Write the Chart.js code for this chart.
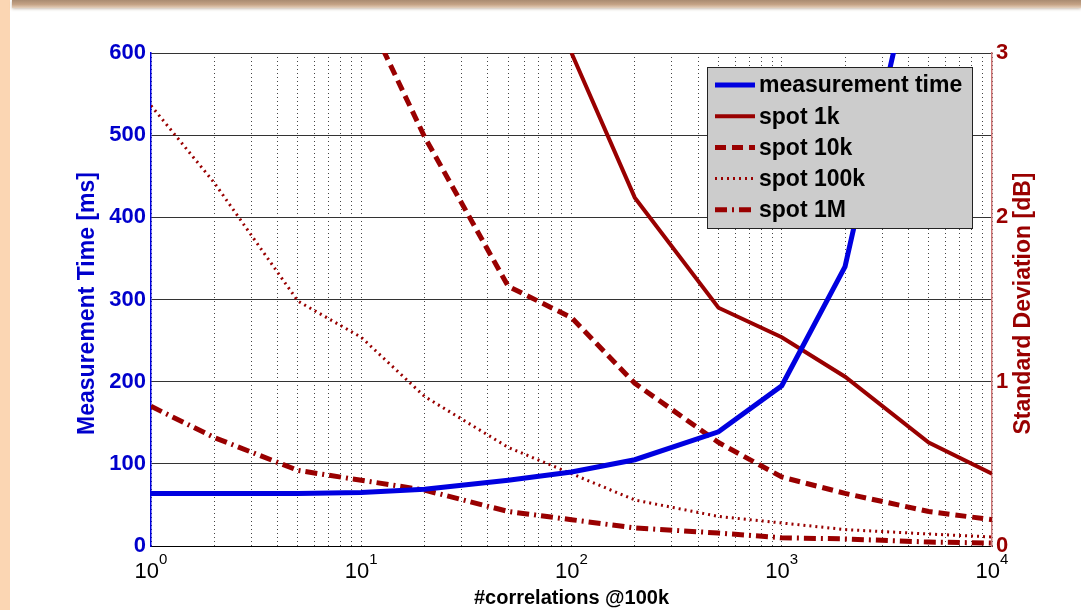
<!DOCTYPE html>
<html>
<head>
<meta charset="utf-8">
<script src="https://cdn.jsdelivr.net/npm/chart.js@4.4.1/dist/chart.umd.min.js"></script>
<style>
    html, body { margin: 0; padding: 0; background: #fff; }
    #marco { position: relative; width: 1081px; height: 610px; overflow: hidden; background: #fff; }
    #borde-izq { position: absolute; left: 0; top: 0; width: 10px; height: 610px; background: #fbd6b3; }
    #borde-sup { position: absolute; left: 12px; top: 0; width: 1069px; height: 8px;
                 background: linear-gradient(#a98b71, #c4a285 55%, #e4cfbc); box-shadow: 0 1px 3px rgba(120,90,60,0.4); }
    #grafico { position: absolute; left: 0; top: 0; }
</style>
</head>
<body>
<div id="marco">
    <div id="borde-izq"></div>
    <div id="borde-sup"></div>
    <canvas id="grafico" width="1081" height="610"></canvas>
</div>
<script>
// Datos
const correlaciones = [1, 2, 5, 10, 20, 50, 100, 200, 500, 1000, 2000, 5000, 10000];
const tiempoMedicion = [64, 64, 64, 65, 69, 80, 90, 105, 139, 195, 340, 790, 1600];
const spot1k = [null, null, null, null, null, null, 3.0, 2.12, 1.45, 1.27, 1.03, 0.63, 0.44];
const spot10k = [null, null, null, 3.3, 2.49, 1.58, 1.39, 0.99, 0.63, 0.42, 0.32, 0.21, 0.16];
const spot100k = [2.68, 2.21, 1.49, 1.27, 0.91, 0.60, 0.44, 0.28, 0.18, 0.14, 0.10, 0.073, 0.055];
const spot1M = [0.85, 0.66, 0.46, 0.40, 0.34, 0.21, 0.16, 0.11, 0.079, 0.05, 0.043, 0.024, 0.018];

const etiquetas = ['measurement time', 'spot 1k', 'spot 10k', 'spot 100k', 'spot 1M'];
const decadas = [1, 10, 100, 1000, 10000];
const exponentes = ['0', '1', '2', '3', '4'];
const subdivisiones = [1, 2, 3, 4, 5, 6, 7, 8, 9];

const azul = '#0000e0';
const rojo = '#990000';
const fuente = "'Liberation Sans', Arial, sans-serif";

function puntos(serie) {
    return correlaciones.map(function (c, i) {
        return { x: c, y: serie[i] };
    });
}

// marcas del eje x: 1..9 por cada decada
let marcasX = [];
decadas.forEach(function (d) {
    if (d === 10000) { marcasX.push(d); return; }
    subdivisiones.forEach(function (s) { marcasX.push(d * s); });
});

// Caja de leyenda dentro del area del grafico (estilo MATLAB)
const leyendaCaja = {
    id: 'leyendaCaja',
    afterDatasetsDraw(chart) {
        const ctx = chart.ctx;
        const area = chart.chartArea;
        const x0 = area.right - 285;
        const y0 = area.top + 14;
        const ancho = 265;
        const alto = 161;

        ctx.save();
        ctx.fillStyle = '#cccccc';
        ctx.fillRect(x0, y0, ancho, alto);
        ctx.strokeStyle = '#222';
        ctx.lineWidth = 1;
        ctx.strokeRect(x0 + 0.5, y0 + 0.5, ancho, alto);

        chart.data.datasets.forEach(function (ds, i) {
            let y = y0 + 18 + i * 31.2;
            ctx.beginPath();
            ctx.strokeStyle = ds.borderColor;
            ctx.lineWidth = ds.borderWidth;
            ctx.setLineDash(ds.borderDash || []);
            ctx.moveTo(x0 + 8, y);
            ctx.lineTo(x0 + 48, y);
            ctx.stroke();
            ctx.setLineDash([]);

            ctx.fillStyle = '#000';
            ctx.font = 'bold 23px ' + fuente;
            ctx.textBaseline = 'middle';
            ctx.textAlign = 'left';
            ctx.fillText(ds.label, x0 + 52, y + 1);
        });
        ctx.restore();
    }
};

// Etiquetas 10^n del eje x y titulos verticales de ambos ejes y
const textosEjes = {
    id: 'textosEjes',
    afterDraw(chart) {
        const ctx = chart.ctx;
        const ejeX = chart.scales.x;
        const area = chart.chartArea;
        ctx.save();
        ctx.fillStyle = '#000';
        ctx.textBaseline = 'alphabetic';
        ctx.textAlign = 'left';
        decadas.forEach(function (d, i) {
            let px = ejeX.getPixelForValue(d);
            ctx.font = '22px ' + fuente;
            let anchoBase = ctx.measureText('10').width;
            ctx.font = '15px ' + fuente;
            let anchoExp = ctx.measureText(exponentes[i]).width;
            let inicio = px - (anchoBase + anchoExp) / 2;
            ctx.font = '22px ' + fuente;
            ctx.fillText('10', inicio, 578);
            ctx.font = '15px ' + fuente;
            ctx.fillText(exponentes[i], inicio + anchoBase, 564);
        });

        let centroY = (area.top + area.bottom) / 2 + 4;
        ctx.textAlign = 'center';
        ctx.textBaseline = 'middle';
        ctx.font = 'bold 23px ' + fuente;

        ctx.save();
        ctx.translate(88, centroY);
        ctx.rotate(-Math.PI / 2);
        ctx.fillStyle = '#0000cc';
        ctx.fillText('Measurement Time [ms]', 0, 0);
        ctx.restore();

        ctx.save();
        ctx.translate(1024, centroY);
        ctx.rotate(-Math.PI / 2);
        ctx.fillStyle = rojo;
        ctx.fillText('Standard Deviation [dB]', 0, 0);
        ctx.restore();

        ctx.restore();
    }
};

const ctx = document.getElementById('grafico');

const graficoCorrelaciones = new Chart(ctx, {
    type: 'line',
    data: {
        datasets: [{
            label: etiquetas[0],
            data: puntos(tiempoMedicion),
            yAxisID: 'y',
            borderColor: azul,
            borderWidth: 5
        }, {
            label: etiquetas[1],
            data: puntos(spot1k),
            yAxisID: 'y1',
            borderColor: rojo,
            borderWidth: 4
        }, {
            label: etiquetas[2],
            data: puntos(spot10k),
            yAxisID: 'y1',
            borderColor: rojo,
            borderWidth: 5,
            borderDash: [11, 6]
        }, {
            label: etiquetas[3],
            data: puntos(spot100k),
            yAxisID: 'y1',
            borderColor: rojo,
            borderWidth: 3,
            borderDash: [2, 4]
        }, {
            label: etiquetas[4],
            data: puntos(spot1M),
            yAxisID: 'y1',
            borderColor: rojo,
            borderWidth: 5,
            borderDash: [12, 5, 2, 5]
        }]
    },
    options: {
        responsive: false,
        animation: false,
        layout: { padding: { top: 53, left: 0, right: 0, bottom: 0 } },
        elements: {
            point: { radius: 0 },
            line: { tension: 0, fill: false }
        },
        datasets: { line: { clip: 0 } },
        plugins: {
            legend: { display: false },
            tooltip: { enabled: false }
        },
        scales: {
            x: {
                type: 'logarithmic',
                min: 1,
                max: 10000,
                afterFit: function (escala) { escala.height = 64; },
                afterBuildTicks: function (escala) {
                    escala.ticks = marcasX.map(function (v) { return { value: v }; });
                },
                grid: { color: '#444', lineWidth: 1, drawTicks: false },
                border: { color: '#000', width: 1, dash: [1, 3] },
                ticks: {
                    autoSkip: false,
                    maxRotation: 0,
                    padding: 10,
                    font: { family: fuente, size: 22 },
                    callback: function () { return ''; }
                },
                title: {
                    display: true,
                    text: '#correlations @100k',
                    color: '#000',
                    font: { family: fuente, size: 20, weight: 'bold' },
                    padding: { top: 0, bottom: 0 }
                }
            },
            y: {
                position: 'left',
                min: 0,
                max: 600,
                afterFit: function (escala) { escala.width = 151; },
                grid: { color: '#333', lineWidth: 1, drawTicks: false },
                border: { color: azul, width: 1.5 },
                ticks: {
                    stepSize: 100,
                    padding: 5,
                    color: '#0000cc',
                    font: { family: fuente, size: 22, weight: 'bold' }
                }
            },
            y1: {
                position: 'right',
                min: 0,
                max: 3,
                afterFit: function (escala) { escala.width = 89; },
                grid: { display: false, drawTicks: false },
                border: { color: '#cc7474', width: 1.5 },
                ticks: {
                    stepSize: 1,
                    padding: 4,
                    color: rojo,
                    font: { family: fuente, size: 22, weight: 'bold' }
                }
            }
        }
    },
    plugins: [leyendaCaja, textosEjes]
});
</script>
</body>
</html>
